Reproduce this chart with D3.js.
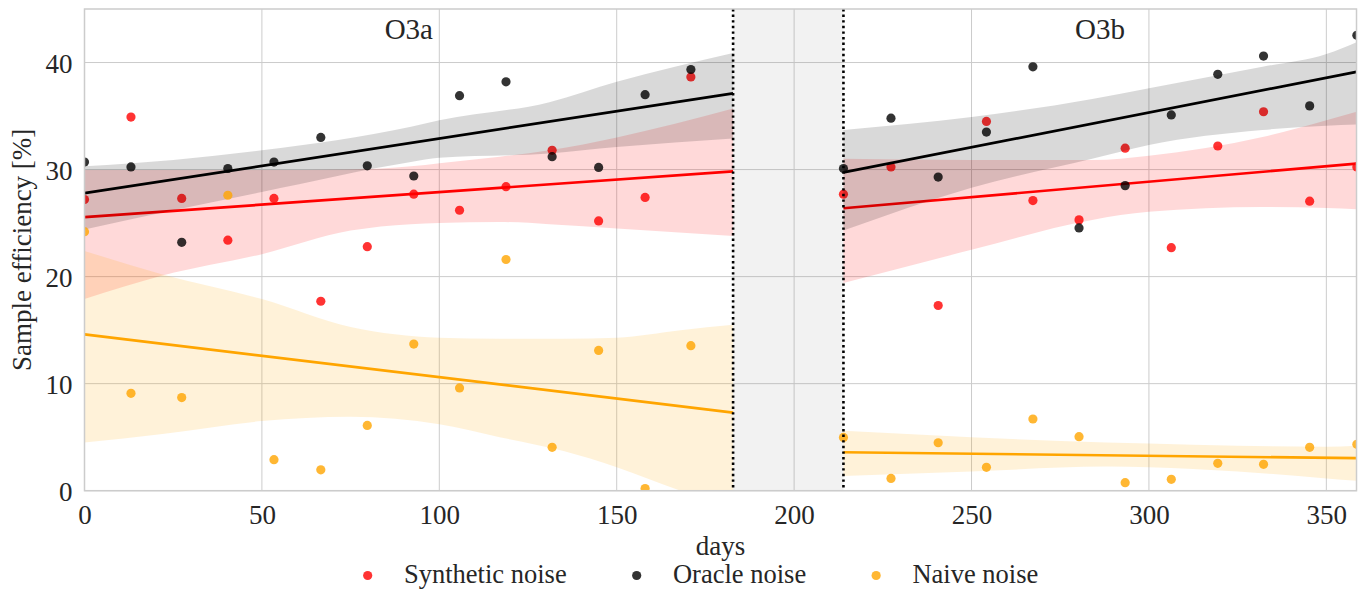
<!DOCTYPE html>
<html>
<head>
<meta charset="utf-8">
<script src="https://cdn.jsdelivr.net/npm/d3@7/dist/d3.min.js"></script>
<style>
  html, body { margin: 0; padding: 0; background: #ffffff; }
  svg { display: block; }
  text { font-family: "Liberation Serif", "DejaVu Serif", serif; fill: #262626; }
</style>
</head>
<body>
<svg id="chart" width="1367" height="589"></svg>
<script>
// ---------------- data ----------------
const periods = ["O3a", "O3b"];
const periodStart = [0, 213.9];
const periodEnd = [182.8, 358.5];

const daysA = [0, 13.1, 27.4, 40.4, 53.4, 66.6, 79.7, 92.8, 105.7, 118.8, 131.8, 144.9, 158.0, 170.9];
const daysB = [213.9, 227.3, 240.6, 254.2, 267.3, 280.3, 293.3, 306.3, 319.4, 332.3, 345.3, 358.6];

const synthA  = [27.2, 34.9, 27.3, 23.4, 27.3, 17.7, 22.8, 27.7, 26.2, 28.4, 31.8, 25.2, 27.4, 38.65];
const oracleA = [30.7, 30.25, 23.2, 30.1, 30.7, 33.0, 30.35, 29.4, 36.9, 38.2, 31.2, 30.2, 37.0, 39.35];
const naiveA  = [24.2, 9.1, 8.7, 27.6, 2.9, 1.95, 6.1, 13.7, 9.6, 21.6, 4.05, 13.1, 0.2, 13.55];

const synthB  = [27.7, 30.25, 17.3, 34.5, 27.1, 25.3, 32.0, 22.7, 32.2, 35.4, 27.05, 30.25];
const oracleB = [30.1, 34.8, 29.3, 33.5, 39.6, 24.55, 28.5, 35.1, 38.9, 40.6, 35.95, 42.55];
const naiveB  = [4.98, 1.15, 4.48, 2.18, 6.7, 5.05, 0.75, 1.06, 2.56, 2.46, 4.05, 4.33];

// confidence bands: [day, lower, upper]
const synthBandA  = [[0,17.9,29.95],[22,20.1,29.95],[50,22.1,29.95],[75,24.3,30.0],[92,24.9,30.3],[100,25.0,30.6],[117,25.1,31.2],[131,24.9,31.8],[150,24.5,33.0],[182.8,23.8,35.7]];
const oracleBandA = [[0,24.4,30.3],[25,26.2,30.9],[50,27.9,31.8],[92,30.7,34.0],[100,31.1,34.6],[131,31.5,36.3],[150,32.1,38.2],[182.8,32.9,40.9]];
const naiveBandA  = [[0,4.5,22.4],[22,5.3,20.2],[50,6.5,17.9],[75,6.9,15.3],[100,6.2,14.3],[117,5.0,14.2],[135,3.7,14.2],[150,2.2,14.3],[168,0.0,15.0],[182.8,-1.6,15.5]];
const synthBandB  = [[213.9,19.4,31.0],[250,22.5,30.9],[284,25.3,30.9],[300,26.05,31.3],[332,26.5,33.05],[350,26.4,34.6],[358.5,26.3,35.4]];
const oracleBandB = [[213.9,24.3,33.7],[250,28.3,34.9],[284,31.0,36.6],[300,32.3,37.6],[332,33.7,39.6],[350,34.1,40.8],[358.5,34.2,41.9]];
const naiveBandB  = [[213.9,1.37,5.6],[250,1.8,5.0],[288,2.25,4.5],[300,2.2,4.4],[325,1.8,4.2],[350,1.15,4.1],[358.5,0.93,4.2]];

const seriesNames = ["Synthetic noise", "Oracle noise", "Naive noise"];
const seriesColors = ["#ff0000", "#000000", "#ffa500"];
const xTicks = [0, 50, 100, 150, 200, 250, 300, 350];
const yTicks = [0, 10, 20, 30, 40];

// ---------------- layout ----------------
const svg = d3.select("#chart");
const L = 84.5, R = 1356.5, T = 9, B = 490.7;
const x = d3.scaleLinear().domain([0, 358.5]).range([L, R]);
const y = d3.scaleLinear().domain([0, 45]).range([B, T]);

svg.append("defs").append("clipPath").attr("id", "clip")
  .append("rect").attr("x", L).attr("y", T).attr("width", R - L).attr("height", B - T);

// grid
const grid = svg.append("g");
grid.selectAll(".gx").data(xTicks).join("line")
  .attr("x1", d => x(d)).attr("x2", d => x(d)).attr("y1", T).attr("y2", B)
  .attr("stroke", "#cccccc").attr("stroke-width", 1);
grid.selectAll(".gy").data(yTicks).join("line")
  .attr("x1", L).attr("x2", R).attr("y1", d => y(d)).attr("y2", d => y(d))
  .attr("stroke", "#cccccc").attr("stroke-width", 1);

// gap shading
svg.append("rect")
  .attr("x", x(periodEnd[0])).attr("width", x(periodStart[1]) - x(periodEnd[0]))
  .attr("y", T).attr("height", B - T)
  .attr("fill", "#808080").attr("fill-opacity", 0.1);

// axes tick labels
const xAxis = d3.axisBottom(x).tickValues(xTicks).tickSize(0).tickPadding(0);
const gx = svg.append("g").attr("transform", `translate(0,${B})`).call(xAxis);
gx.select(".domain").remove();
gx.selectAll("text").attr("font-size", 27).attr("dy", null).attr("y", 33)
  .style("font-family", "'Liberation Serif', serif").attr("fill", "#262626");

const yAxis = d3.axisLeft(y).tickValues(yTicks).tickSize(0).tickPadding(0);
const gy = svg.append("g").attr("transform", `translate(${L},0)`).call(yAxis);
gy.select(".domain").remove();
gy.selectAll("text").attr("font-size", 27).attr("x", -12).attr("dy", "0.36em")
  .style("font-family", "'Liberation Serif', serif").attr("fill", "#262626");

// plot content
const plot = svg.append("g").attr("clip-path", "url(#clip)");

function ols(xs, ys) {
  const mx = d3.mean(xs), my = d3.mean(ys);
  let sxy = 0, sxx = 0;
  xs.forEach((v, i) => { sxy += (v - mx) * (ys[i] - my); sxx += (v - mx) * (v - mx); });
  const b = sxy / sxx;
  return { a: my - b * mx, b };
}

const area = d3.area().x(d => x(d[0])).y0(d => y(d[1])).y1(d => y(d[2])).curve(d3.curveMonotoneX);

const groups = [
  { days: daysA, vals: [synthA, oracleA, naiveA], bands: [synthBandA, oracleBandA, naiveBandA], p: 0 },
  { days: daysB, vals: [synthB, oracleB, naiveB], bands: [synthBandB, oracleBandB, naiveBandB], p: 1 }
];

groups.forEach(g => {
  g.vals.forEach((vals, s) => {
    const col = seriesColors[s];
    plot.append("g").selectAll("circle").data(vals).join("circle")
      .attr("cx", (d, i) => x(g.days[i])).attr("cy", d => y(d)).attr("r", 4.6)
      .attr("fill", col).attr("fill-opacity", 0.8);
    plot.append("path").datum(g.bands[s]).attr("d", area)
      .attr("fill", col).attr("fill-opacity", 0.15);
    const f = ols(g.days, vals);
    const x0 = periodStart[g.p], x1 = periodEnd[g.p];
    plot.append("line")
      .attr("x1", x(x0)).attr("y1", y(f.a + f.b * x0))
      .attr("x2", x(x1)).attr("y2", y(f.a + f.b * x1))
      .attr("stroke", col).attr("stroke-width", 2.7);
  });
});

// dotted period boundaries
[periodEnd[0], periodStart[1]].forEach(d => {
  svg.append("line").attr("x1", x(d)).attr("x2", x(d)).attr("y1", T).attr("y2", B)
    .attr("stroke", "#000").attr("stroke-width", 2.6).attr("stroke-dasharray", "2.4,3.2");
});

// frame
svg.append("rect").attr("x", L).attr("y", T).attr("width", R - L).attr("height", B - T)
  .attr("fill", "none").attr("stroke", "#cccccc").attr("stroke-width", 1.5);

// period labels
periods.forEach((p, i) => {
  svg.append("text").attr("x", x((periodStart[i] + periodEnd[i]) / 2)).attr("y", 38.5)
    .attr("text-anchor", "middle").attr("font-size", 29).text(p);
});

// axis titles
svg.append("text").attr("x", (L + R) / 2).attr("y", 555).attr("text-anchor", "middle")
  .attr("font-size", 27).text("days");
svg.append("text").attr("transform", `translate(31,${(T + B) / 2}) rotate(-90)`)
  .attr("text-anchor", "middle").attr("font-size", 27).text("Sample efficiency [%]");

// legend
let lx = 367.7;
seriesNames.forEach((name, i) => {
  svg.append("circle").attr("cx", lx).attr("cy", 575.5).attr("r", 4.6)
    .attr("fill", seriesColors[i]).attr("fill-opacity", 0.8);
  const t = svg.append("text").attr("x", lx + 36.3).attr("y", 582.5).attr("font-size", 26.5).text(name);
  lx = lx + 36.3 + t.node().getComputedTextLength() + 70;
});
</script>
</body>
</html>
